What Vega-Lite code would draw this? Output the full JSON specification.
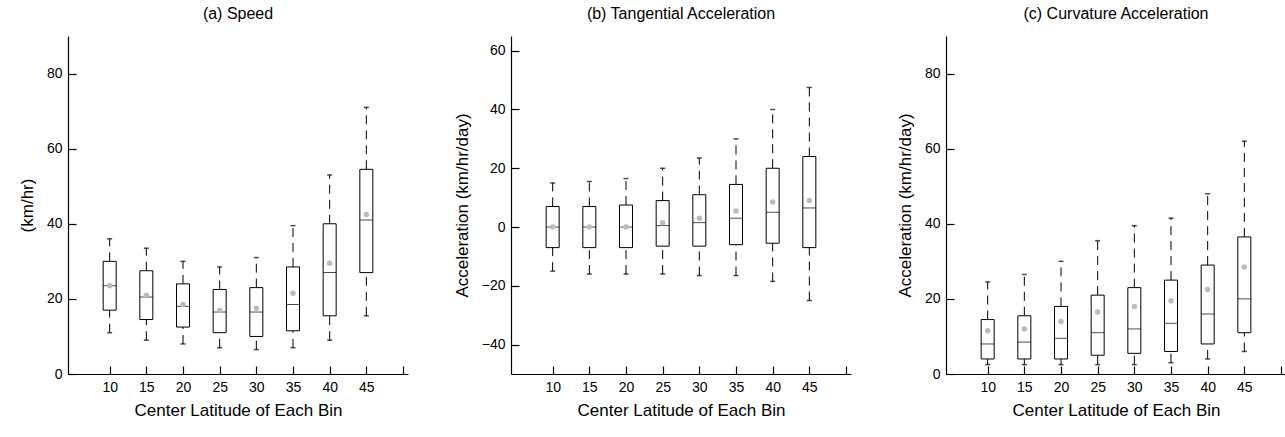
{
"$schema":"https://vega.github.io/schema/vega-lite/v6.json",
"padding":{"left":18,"top":6,"right":0,"bottom":0},
"spacing":45,
"config":{"font":"Liberation Sans","view":{"stroke":null},
 "axis":{"domainColor":"#000","tickColor":"#000","labelColor":"#000","titleColor":"#000","labelFont":"Liberation Sans","titleFont":"Liberation Sans","labelFontSize":14,"titleFontSize":17,"titleFontWeight":"normal","grid":false,"tickSize":-8,"domainWidth":1.2,"tickWidth":1.2},
 "title":{"fontSize":16,"fontWeight":"normal","color":"#000","offset":14}},
"datasets":{"d":[
{"p":"a","lat":10,"lo":11,"q1":17,"med":23.5,"q3":30,"hi":36,"mean":23.5},
{"p":"a","lat":15,"lo":9,"q1":14.5,"med":20.5,"q3":27.5,"hi":33.5,"mean":21},
{"p":"a","lat":20,"lo":8,"q1":12.5,"med":18,"q3":24,"hi":30,"mean":18.5},
{"p":"a","lat":25,"lo":7,"q1":11,"med":16.5,"q3":22.5,"hi":28.5,"mean":17},
{"p":"a","lat":30,"lo":6.5,"q1":10,"med":16.5,"q3":23,"hi":31,"mean":17.5},
{"p":"a","lat":35,"lo":7,"q1":11.5,"med":18.5,"q3":28.5,"hi":39.5,"mean":21.5},
{"p":"a","lat":40,"lo":9,"q1":15.5,"med":27,"q3":40,"hi":53,"mean":29.5},
{"p":"a","lat":45,"lo":15.5,"q1":27,"med":41,"q3":54.5,"hi":71,"mean":42.5},
{"p":"b","lat":10,"lo":-15,"q1":-7,"med":0,"q3":7,"hi":15,"mean":0},
{"p":"b","lat":15,"lo":-16,"q1":-7,"med":0,"q3":7,"hi":15.5,"mean":0},
{"p":"b","lat":20,"lo":-16,"q1":-7,"med":0,"q3":7.5,"hi":16.5,"mean":0},
{"p":"b","lat":25,"lo":-16,"q1":-6.5,"med":0.5,"q3":9,"hi":20,"mean":1.5},
{"p":"b","lat":30,"lo":-16.5,"q1":-6.5,"med":1.5,"q3":11,"hi":23.5,"mean":3},
{"p":"b","lat":35,"lo":-16.5,"q1":-6,"med":3,"q3":14.5,"hi":30,"mean":5.5},
{"p":"b","lat":40,"lo":-18.5,"q1":-5.5,"med":5,"q3":20,"hi":40,"mean":8.5},
{"p":"b","lat":45,"lo":-25,"q1":-7,"med":6.5,"q3":24,"hi":47.5,"mean":9},
{"p":"c","lat":10,"lo":2.5,"q1":4,"med":8,"q3":14.5,"hi":24.5,"mean":11.5},
{"p":"c","lat":15,"lo":2.5,"q1":4,"med":8.5,"q3":15.5,"hi":26.5,"mean":12},
{"p":"c","lat":20,"lo":2.5,"q1":4,"med":9.5,"q3":18,"hi":30,"mean":14},
{"p":"c","lat":25,"lo":2.5,"q1":5,"med":11,"q3":21,"hi":35.5,"mean":16.5},
{"p":"c","lat":30,"lo":2.5,"q1":5.5,"med":12,"q3":23,"hi":39.5,"mean":18},
{"p":"c","lat":35,"lo":3,"q1":6,"med":13.5,"q3":25,"hi":41.5,"mean":19.5},
{"p":"c","lat":40,"lo":4,"q1":8,"med":16,"q3":29,"hi":48,"mean":22.5},
{"p":"c","lat":45,"lo":6,"q1":11,"med":20,"q3":36.5,"hi":62,"mean":28.5}
]},
"hconcat":[
{"title":"(a) Speed","width":340,"height":338,"data":{"name":"d"},"transform":[{"filter":"datum.p==='a'"}],
 "encoding":{"x":{"field":"lat","type":"quantitative","scale":{"domain":[5,50],"nice":false},"axis":{"title":"Center Latitude of Each Bin","values":[10,15,20,25,30,35,40,45,50],"labelExpr":"datum.value==50?'':datum.label","labelPadding":14,"titlePadding":8}}},
 "layer":[
  {"mark":{"type":"rule","strokeDash":[9,6],"color":"#000"},"encoding":{"y":{"field":"lo","type":"quantitative","scale":{"domain":[0,90],"nice":false},"axis":{"title":"(km/hr)","values":[0,20,40,60,80],"labelPadding":14,"titlePadding":10}},"y2":{"field":"q1"}}},
  {"mark":{"type":"rule","strokeDash":[9,6],"color":"#000"},"encoding":{"y":{"field":"q3","type":"quantitative"},"y2":{"field":"hi"}}},
  {"mark":{"type":"tick","orient":"horizontal","size":5,"color":"#000","thickness":1.5},"encoding":{"y":{"field":"lo","type":"quantitative"}}},
  {"mark":{"type":"tick","orient":"horizontal","size":5,"color":"#000","thickness":1.5},"encoding":{"y":{"field":"hi","type":"quantitative"}}},
  {"mark":{"type":"bar","size":13,"fill":"#fff","stroke":"#000","strokeWidth":1},"encoding":{"y":{"field":"q1","type":"quantitative"},"y2":{"field":"q3"}}},
  {"mark":{"type":"tick","orient":"horizontal","size":13,"color":"#000","thickness":1},"encoding":{"y":{"field":"med","type":"quantitative"}}},
  {"mark":{"type":"point","filled":true,"size":30,"color":"#bbb","opacity":1},"encoding":{"y":{"field":"mean","type":"quantitative"}}}
 ]},
{"title":"(b) Tangential Acceleration","width":340,"height":338,"data":{"name":"d"},"transform":[{"filter":"datum.p==='b'"}],
 "encoding":{"x":{"field":"lat","type":"quantitative","scale":{"domain":[5,50],"nice":false},"axis":{"title":"Center Latitude of Each Bin","values":[10,15,20,25,30,35,40,45,50],"labelExpr":"datum.value==50?'':datum.label","labelPadding":14,"titlePadding":8}}},
 "layer":[
  {"mark":{"type":"rule","strokeDash":[9,6],"color":"#000"},"encoding":{"y":{"field":"lo","type":"quantitative","scale":{"domain":[-50,65],"nice":false},"axis":{"title":"Acceleration (km/hr/day)","values":[-40,-20,0,20,40,60],"labelPadding":14,"titlePadding":10}},"y2":{"field":"q1"}}},
  {"mark":{"type":"rule","strokeDash":[9,6],"color":"#000"},"encoding":{"y":{"field":"q3","type":"quantitative"},"y2":{"field":"hi"}}},
  {"mark":{"type":"tick","orient":"horizontal","size":5,"color":"#000","thickness":1.5},"encoding":{"y":{"field":"lo","type":"quantitative"}}},
  {"mark":{"type":"tick","orient":"horizontal","size":5,"color":"#000","thickness":1.5},"encoding":{"y":{"field":"hi","type":"quantitative"}}},
  {"mark":{"type":"bar","size":13,"fill":"#fff","stroke":"#000","strokeWidth":1},"encoding":{"y":{"field":"q1","type":"quantitative"},"y2":{"field":"q3"}}},
  {"mark":{"type":"tick","orient":"horizontal","size":13,"color":"#000","thickness":1},"encoding":{"y":{"field":"med","type":"quantitative"}}},
  {"mark":{"type":"point","filled":true,"size":30,"color":"#bbb","opacity":1},"encoding":{"y":{"field":"mean","type":"quantitative"}}}
 ]},
{"title":"(c) Curvature Acceleration","width":340,"height":338,"data":{"name":"d"},"transform":[{"filter":"datum.p==='c'"}],
 "encoding":{"x":{"field":"lat","type":"quantitative","scale":{"domain":[5,50],"nice":false},"axis":{"title":"Center Latitude of Each Bin","values":[10,15,20,25,30,35,40,45,50],"labelExpr":"datum.value==50?'':datum.label","labelPadding":14,"titlePadding":8}}},
 "layer":[
  {"mark":{"type":"rule","strokeDash":[9,6],"color":"#000"},"encoding":{"y":{"field":"lo","type":"quantitative","scale":{"domain":[0,90],"nice":false},"axis":{"title":"Acceleration (km/hr/day)","values":[0,20,40,60,80],"labelPadding":14,"titlePadding":10}},"y2":{"field":"q1"}}},
  {"mark":{"type":"rule","strokeDash":[9,6],"color":"#000"},"encoding":{"y":{"field":"q3","type":"quantitative"},"y2":{"field":"hi"}}},
  {"mark":{"type":"tick","orient":"horizontal","size":5,"color":"#000","thickness":1.5},"encoding":{"y":{"field":"lo","type":"quantitative"}}},
  {"mark":{"type":"tick","orient":"horizontal","size":5,"color":"#000","thickness":1.5},"encoding":{"y":{"field":"hi","type":"quantitative"}}},
  {"mark":{"type":"bar","size":13,"fill":"#fff","stroke":"#000","strokeWidth":1},"encoding":{"y":{"field":"q1","type":"quantitative"},"y2":{"field":"q3"}}},
  {"mark":{"type":"tick","orient":"horizontal","size":13,"color":"#000","thickness":1},"encoding":{"y":{"field":"med","type":"quantitative"}}},
  {"mark":{"type":"point","filled":true,"size":30,"color":"#bbb","opacity":1},"encoding":{"y":{"field":"mean","type":"quantitative"}}}
 ]}
]}
